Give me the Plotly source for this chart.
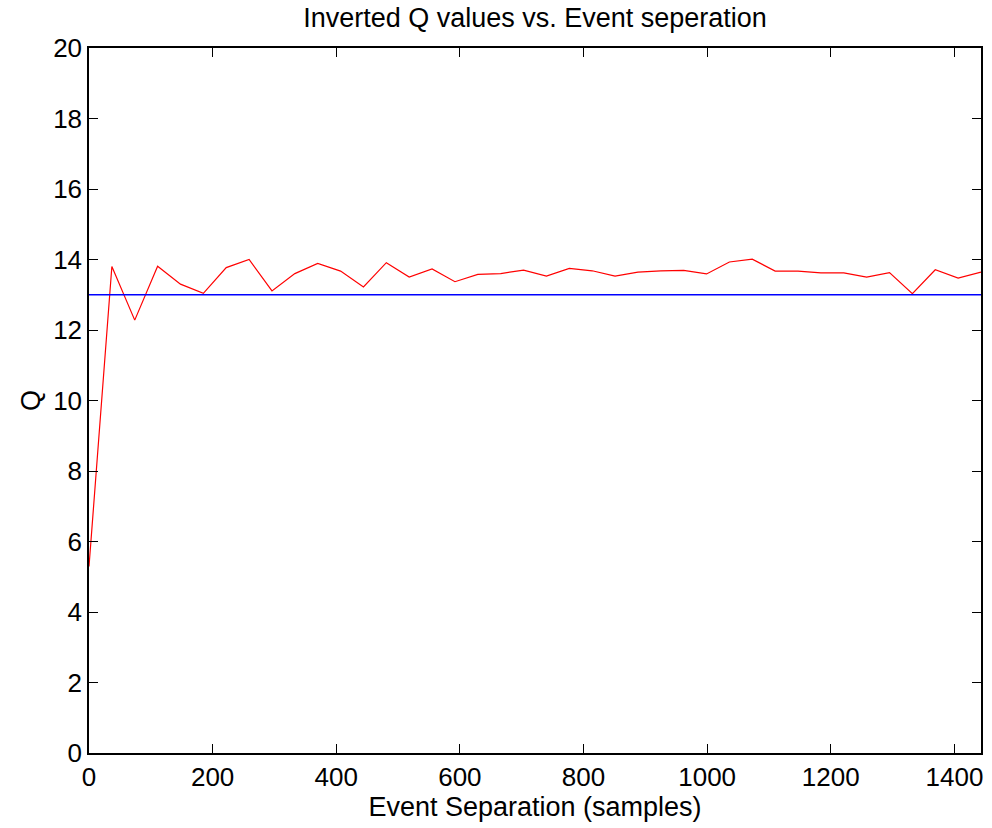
import plotly.graph_objects as go

# Event separation in samples and the inverted Q at each separation
separation = [37 * i for i in range(40)]
q_inverted = [5.29, 13.80, 12.28, 13.81, 13.30, 13.04, 13.77, 14.00, 13.11, 13.60,
              13.89, 13.67, 13.22, 13.91, 13.50, 13.73, 13.37, 13.58, 13.60, 13.70,
              13.53, 13.75, 13.68, 13.53, 13.64, 13.68, 13.69, 13.59, 13.93, 14.01,
              13.67, 13.67, 13.62, 13.62, 13.50, 13.63, 13.03, 13.71, 13.47, 13.64]
q_true = 13

x_ticks = [0, 200, 400, 600, 800, 1000, 1200, 1400]
y_ticks = [0, 2, 4, 6, 8, 10, 12, 14, 16, 18, 20]

font_family = "Liberation Sans, Arial, sans-serif"

fig = go.Figure()
fig.add_trace(go.Scatter(
    x=separation, y=q_inverted, mode="lines",
    line=dict(color="#ff0000", width=1.2), showlegend=False,
))
fig.add_trace(go.Scatter(
    x=[separation[0], separation[-1]], y=[q_true, q_true], mode="lines",
    line=dict(color="#0000ff", width=1.5), showlegend=False,
))

axis_common = dict(
    showline=True, linecolor="black", linewidth=1.5, mirror="ticks",
    ticks="inside", ticklen=9, tickwidth=1, tickcolor="black",
    showgrid=False, zeroline=False,
    tickfont=dict(family=font_family, size=26, color="black"),
)

fig.update_layout(
    width=992, height=828,
    margin=dict(l=89, r=9, t=48, b=75),
    paper_bgcolor="white", plot_bgcolor="white",
    title=dict(text="Inverted Q values vs. Event seperation",
               font=dict(family=font_family, size=27, color="black"),
               x=0.5, xanchor="center", xref="paper",
               y=1 - 18 / 828, yref="container", yanchor="middle"),
    xaxis=dict(range=[0, separation[-1]], tickvals=x_ticks,
               title=dict(text="Event Separation (samples)", standoff=3,
                          font=dict(family=font_family, size=27, color="black")),
               **axis_common),
    yaxis=dict(range=[0, 20], tickvals=y_ticks,
               title=dict(text="Q", standoff=5,
                          font=dict(family=font_family, size=27, color="black")),
               **axis_common),
)

fig.write_html("out.html")
